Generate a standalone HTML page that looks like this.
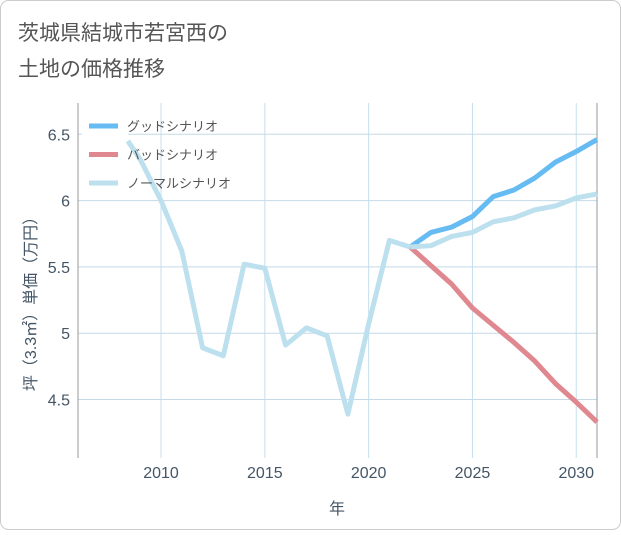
<!DOCTYPE html>
<html><head><meta charset="utf-8"><style>
body{margin:0;background:#fff;}
svg text{font-family:"Liberation Sans","Noto Sans CJK JP",sans-serif;}
</style></head><body>
<svg width="621" height="530" xmlns="http://www.w3.org/2000/svg">
<rect x="0.5" y="0.5" width="620" height="529" rx="8" fill="#fff" stroke="#ccc"/>
<text x="18" y="40" font-size="21" fill="#555">茨城県結城市若宮西の</text>
<text x="18" y="76" font-size="21" fill="#555">土地の価格推移</text>
<g id="grid"></g>
<line x1="78" y1="103" x2="78" y2="458" stroke="#999"/>
<line x1="597" y1="103" x2="597" y2="458" stroke="#999"/>
<rect x="82" y="112" width="46" height="86" fill="#fff"/>
<g id="series"></g>
<g id="legend"></g>
<text transform="translate(36,300) rotate(-90)" text-anchor="middle" font-size="16" fill="#456">坪（3.3㎡）単価（万円）</text>
<text x="337" y="514" text-anchor="middle" font-size="16" fill="#456">年</text>
</svg>
<script>
const histYears=[2008.4,2009,2010,2011,2012,2013,2014,2015,2016,2017,2018,2019,2020,2021,2022];
const histValues=[6.45,6.31,6.0,5.62,4.89,4.83,5.52,5.49,4.91,5.04,4.98,4.39,5.07,5.70,5.65];
const futYears=[2022,2023,2024,2025,2026,2027,2028,2029,2030,2031];
const goodValues=[5.65,5.76,5.80,5.88,6.03,6.08,6.17,6.29,6.37,6.46];
const badValues=[5.65,5.51,5.37,5.19,5.06,4.93,4.79,4.62,4.48,4.33];
const normalValues=[5.65,5.66,5.73,5.76,5.84,5.87,5.93,5.96,6.02,6.05];
const xTicks=[2010,2015,2020,2025,2030];
const yTicks=[4.5,5,5.5,6,6.5];
const yTickLabels=["4.5","5","5.5","6","6.5"];
const NS="http://www.w3.org/2000/svg";
const x=v=>78+(v-2006)*(519/25);
const y=v=>134.3+(6.5-v)*132.6;
function mk(t,a,p){const e=document.createElementNS(NS,t);for(const k in a)e.setAttribute(k,a[k]);p.appendChild(e);return e;}
const grid=document.getElementById('grid');
xTicks.forEach(t=>{
 const l=mk('line',{x1:x(t),x2:x(t),y1:103,y2:458,stroke:'#c5dfee'},grid);
 
 
 const tx=mk('text',{x:x(t),y:478,'text-anchor':'middle','font-size':16,fill:'#456'},grid);
 tx.textContent=t;
 
 
});
yTicks.forEach((t,i)=>{
 const l=mk('line',{x1:78,x2:597,y1:y(t),y2:y(t),stroke:'#c5d9e6'},grid);
 
 
 const tx=mk('text',{x:70,y:y(t)+6,'text-anchor':'end','font-size':16,fill:'#456'},grid);
 tx.textContent=yTickLabels[i];
 
 
});
const ser=document.getElementById('series');
function line(xs,vs,col,name){
 const p=mk('polyline',{points:xs.map((a,i)=>x(a)+','+y(vs[i])).join(' '),fill:'none',stroke:col,'stroke-width':5,'stroke-linejoin':'round'},ser);
 
 
}
line(futYears,badValues,'#e0888f','bad-scenario-line');
line(futYears,goodValues,'#66bbf2','good-scenario-line');
line(futYears,normalValues,'#bde0ee','normal-scenario-line');
line(histYears,histValues,'#bde0ee','historical-line');
const lg=document.getElementById('legend');
[['グッドシナリオ','#66bbf2','legend-good'],['バッドシナリオ','#e0888f','legend-bad'],['ノーマルシナリオ','#bde0ee','legend-normal']].forEach((d,i)=>{
 const yy=126+i*28.5;
 const g=mk('g',{},lg);
 
 
 mk('line',{x1:89,x2:118,y1:yy,y2:yy,stroke:d[1],'stroke-width':5},g);
 const t=mk('text',{x:127,y:yy+5,'font-size':13,fill:'#555'},g);
 t.textContent=d[0];
});
</script>
</body></html>
